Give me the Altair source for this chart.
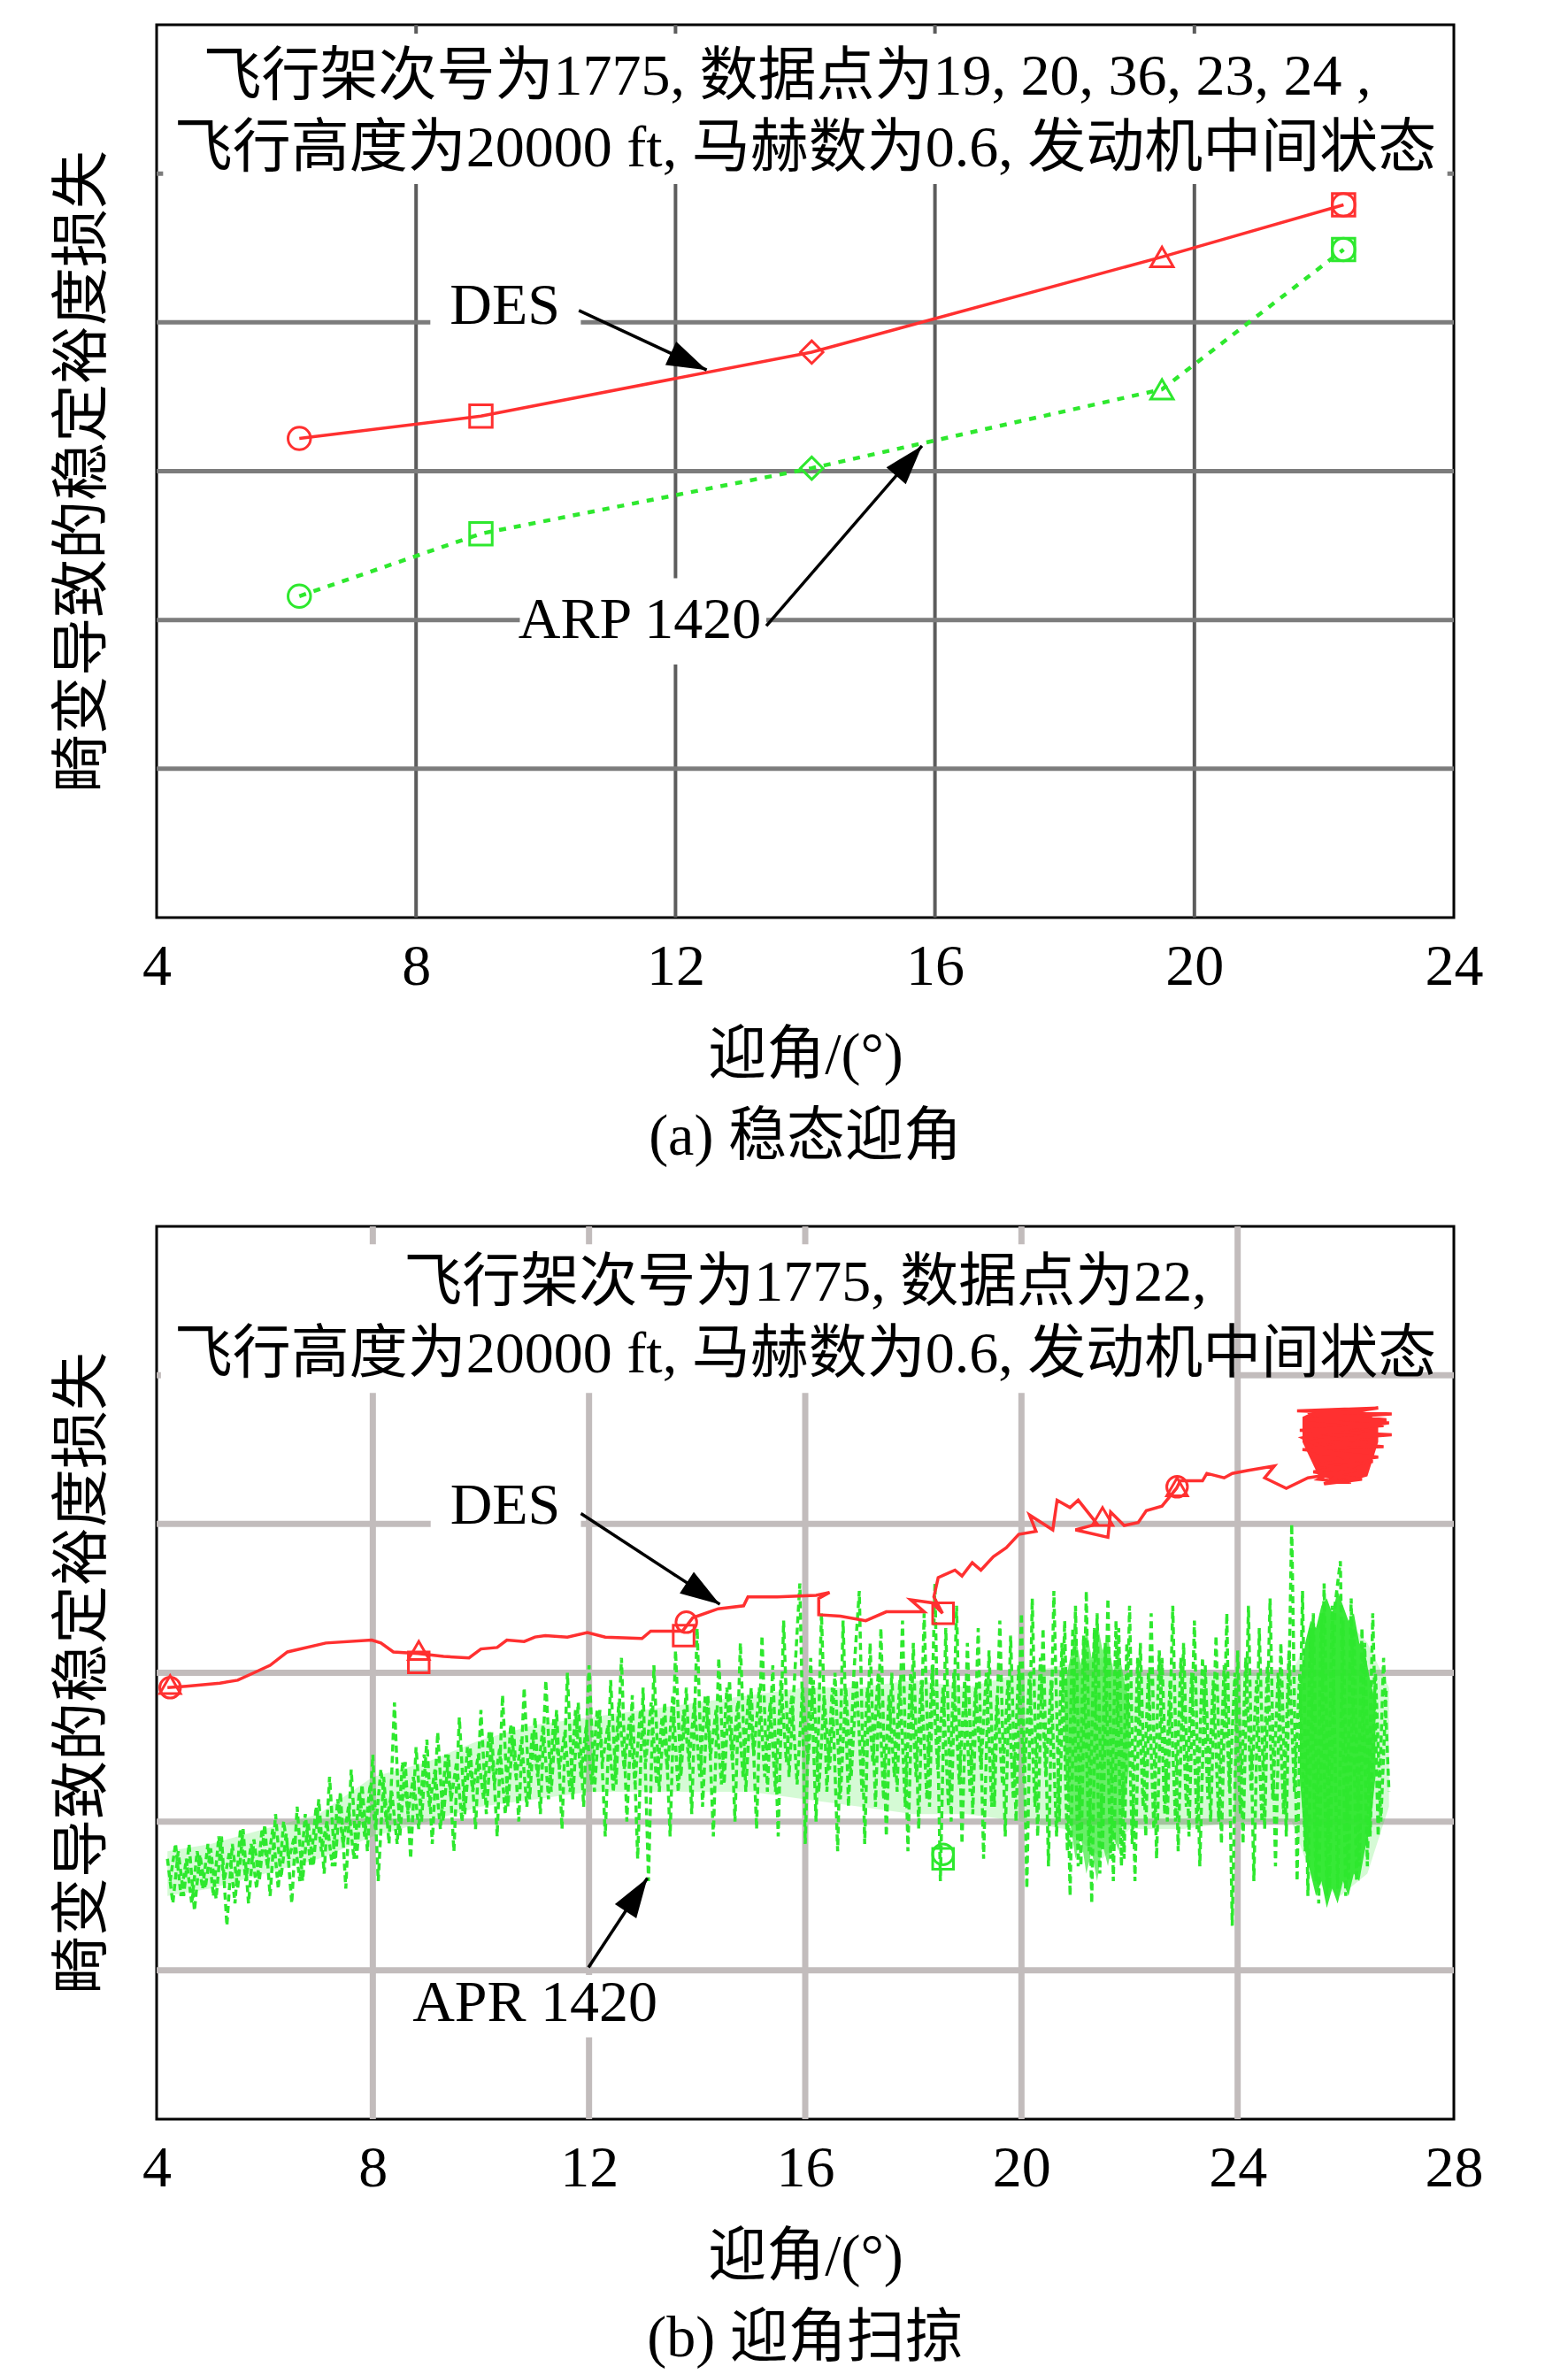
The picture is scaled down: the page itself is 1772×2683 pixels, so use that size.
import altair as alt
import pandas as pd

FONT = "Liberation Serif, Noto Sans CJK SC"
FS = 66
RED = "#ff3030"
GREEN = "#2ee82e"
ARROW = "M0,0L-0.65,2L0.65,2Z"
PW = 1466
PH = 1009

YTITLE = "畸变导致的稳定裕度损失"
XTITLE = "迎角/(°)"
HGRID = [1, 2, 3, 4, 5]

# ---------------- panel (a) data ----------------
a_xticks = [4, 8, 12, 16, 20, 24]
a_vgrid = [8, 12, 16, 20]
a_x = [6.2, 9.0, 14.1, 19.5, 22.3]
a_des = [3.22, 3.37, 3.80, 4.44, 4.79]
a_arp = [2.16, 2.58, 3.02, 3.55, 4.49]
a_shapes = ["circle", "square", "diamond", "triangle-up", "square"]
a_title = ["飞行架次号为1775, 数据点为19, 20, 36, 23, 24 ,",
           "飞行高度为20000 ft, 马赫数为0.6, 发动机中间状态"]
a_title_x = [13.72, 14.0]
a_title_y = [5.65, 5.17]
a_labels = [("DES", 9.37, 4.11), ("ARP 1420", 11.45, 2.0)]
a_boxes = [(4.1, 23.9, 4.93, 5.94), (8.22, 10.54, 3.9, 4.32), (9.6, 13.4, 1.7, 2.28)]
a_arrows = [(10.51, 4.08, 12.48, 3.68, 115.0), (13.40, 1.96, 15.80, 3.17, 40.9)]
a_caption = "(a) 稳态迎角"

# ---------------- panel (b) data ----------------
b_xticks = [4, 8, 12, 16, 20, 24, 28]
b_vgrid = [8, 12, 16, 20, 24]
b_title = ["飞行架次号为1775, 数据点为22,",
           "飞行高度为20000 ft, 马赫数为0.6, 发动机中间状态"]
b_title_x = [16.0, 16.0]
b_title_y = [5.62, 5.14]
b_labels = [("DES", 10.45, 4.12), ("APR 1420", 11.0, 0.78)]
b_boxes = [(4.08, 23.92, 4.88, 5.88), (9.07, 11.85, 3.9, 4.33), (8.6, 13.3, 0.55, 0.97)]
b_arrows = [(11.85, 4.07, 14.42, 3.46, 123.2), (11.99, 1.02, 13.08, 1.62, 33.4)]
b_caption = "(b) 迎角扫掠"

b_des_path = [
    (4.2, 2.90), (4.55, 2.91), (5.17, 2.93), (5.5, 2.95), (5.8, 3.00), (6.1, 3.05),
    (6.42, 3.14), (7.13, 3.20), (7.98, 3.22), (8.15, 3.20), (8.38, 3.14), (8.84, 3.13),
    (9.31, 3.11), (9.78, 3.10), (10.0, 3.16), (10.3, 3.17), (10.48, 3.22), (10.8, 3.21),
    (11.0, 3.24), (11.19, 3.25), (11.6, 3.24), (11.97, 3.27), (12.3, 3.24), (12.98, 3.23),
    (13.14, 3.28), (13.73, 3.28), (13.92, 3.37), (14.39, 3.43), (14.86, 3.45), (14.94, 3.51),
    (15.48, 3.51), (16.2, 3.52), (16.45, 3.54), (16.25, 3.50), (16.25, 3.39), (16.65, 3.38),
    (17.12, 3.35), (17.5, 3.41), (18.2, 3.41), (17.95, 3.49), (18.35, 3.47), (18.54, 3.40),
    (18.38, 3.51), (18.46, 3.64), (18.77, 3.69), (18.9, 3.65), (19.09, 3.74), (19.25, 3.69),
    (19.48, 3.78), (19.72, 3.84), (19.95, 3.93), (20.27, 3.95), (20.15, 4.06), (20.58, 3.96),
    (20.66, 4.16), (20.9, 4.11), (21.05, 4.16), (21.4, 4.00), (21.0, 3.96), (21.6, 3.91),
    (21.65, 4.08), (21.9, 3.99), (22.16, 4.01), (22.31, 4.09), (22.6, 4.12), (22.87, 4.24),
    (22.94, 4.29), (23.35, 4.29), (23.43, 4.34), (23.75, 4.31), (23.9, 4.34), (24.2, 4.36),
    (24.68, 4.39), (24.5, 4.31), (24.9, 4.24), (25.3, 4.31),
    (26.2, 4.36), (25.5, 4.40), (26.6, 4.45), (25.2, 4.50), (26.7, 4.52), (25.4, 4.56),
    (26.85, 4.60), (25.15, 4.63), (26.7, 4.66), (25.3, 4.70), (26.85, 4.74), (25.1, 4.76),
    (26.6, 4.78), (25.5, 4.72), (26.8, 4.68), (25.25, 4.60), (26.4, 4.55), (25.35, 4.50),
    (26.5, 4.42), (25.4, 4.35), (26.3, 4.30), (25.6, 4.27), (26.2, 4.40), (25.2, 4.58),
    (26.75, 4.70), (25.3, 4.75), (26.5, 4.62), (25.45, 4.48), (26.3, 4.45), (25.5, 4.30),
    (26.1, 4.28),
]
b_des_core_x = [25.2, 25.5, 26.0, 26.4, 26.6]
b_des_core_lo = [4.55, 4.32, 4.28, 4.32, 4.55]
b_des_core_hi = [4.72, 4.77, 4.78, 4.75, 4.68]

b_apr_x = [
    4.2, 4.3, 4.4, 4.5, 4.6, 4.7, 4.8, 4.9,
    5.0, 5.1, 5.2, 5.3, 5.4, 5.5, 5.6, 5.7, 5.8, 5.9,
    6.0, 6.1, 6.2, 6.3, 6.4, 6.5, 6.6, 6.7, 6.8, 6.9,
    7.0, 7.1, 7.2, 7.3, 7.4, 7.5, 7.6, 7.7, 7.8, 7.9,
    8.0, 8.1, 8.2, 8.3, 8.4, 8.5, 8.6, 8.7, 8.8, 8.9,
    9.0, 9.1, 9.2, 9.3, 9.4, 9.5, 9.6, 9.7, 9.8, 9.9,
    10.0, 10.1, 10.2, 10.3, 10.4, 10.5, 10.6, 10.7, 10.8, 10.9,
    11.0, 11.1, 11.2, 11.3, 11.4, 11.5, 11.6, 11.7, 11.8, 11.9,
    12.0, 12.1, 12.2, 12.3, 12.4, 12.5, 12.6, 12.7, 12.8, 12.9,
    13.0, 13.1, 13.2, 13.3, 13.4, 13.5, 13.6, 13.7, 13.8, 13.9,
    14.0, 14.1, 14.2, 14.3, 14.4, 14.5, 14.6, 14.7, 14.8, 14.9,
    15.0, 15.1, 15.2, 15.3, 15.4, 15.5, 15.6, 15.7, 15.8, 15.9,
    16.0, 16.1, 16.2, 16.3, 16.4, 16.5, 16.6, 16.7, 16.8, 16.9,
    17.0, 17.1, 17.2, 17.3, 17.4, 17.5, 17.6, 17.7, 17.8, 17.9,
    18.0, 18.1, 18.2, 18.3, 18.4, 18.5, 18.6, 18.7, 18.8, 18.9,
    19.0, 19.1, 19.2, 19.3, 19.4, 19.5, 19.6, 19.7, 19.8, 19.9,
    20.0, 20.1, 20.2, 20.3, 20.4, 20.5, 20.6, 20.7, 20.8, 20.9,
    21.0, 21.1, 21.2, 21.3, 21.4, 21.5, 21.6, 21.7, 21.8, 21.9,
    22.0, 22.1, 22.2, 22.3, 22.4, 22.5, 22.6, 22.7, 22.8, 22.9,
    23.0, 23.1, 23.2, 23.3, 23.4, 23.5, 23.6, 23.7, 23.8, 23.9,
    24.0, 24.1, 24.2, 24.3, 24.4, 24.5, 24.6, 24.7, 24.8, 24.9,
    25.0, 25.1, 25.2, 25.3, 25.4, 25.5, 25.6, 25.7, 25.8, 25.9,
    26.0, 26.1, 26.2, 26.3, 26.4, 26.5, 26.6, 26.7, 26.8,
]
b_apr_y = [
    1.75, 1.45, 1.80, 1.50, 1.85, 1.40, 1.78, 1.55,
    1.82, 1.48, 1.90, 1.30, 1.85, 1.55, 1.95, 1.45, 1.88, 1.60,
    1.98, 1.50, 2.05, 1.62, 1.92, 1.45, 2.10, 1.60, 2.00, 1.70,
    2.15, 1.65, 2.30, 1.70, 2.20, 1.55, 2.35, 1.75, 2.25, 1.80,
    2.45, 1.60, 2.30, 1.85, 2.80, 1.90, 2.40, 1.75, 2.50, 2.00,
    2.55, 1.85, 2.60, 2.00, 2.45, 1.80, 2.70, 2.05, 2.50, 1.95,
    2.75, 2.05, 2.60, 1.90, 2.85, 2.10, 2.65, 2.00, 2.90, 2.15,
    2.70, 2.05, 2.95, 2.20, 2.75, 1.95, 3.00, 2.15, 2.80, 2.10,
    3.05, 2.20, 2.75, 1.90, 2.95, 2.25, 3.10, 2.00, 2.85, 1.75,
    2.90, 1.60, 3.05, 2.20, 2.80, 1.90, 3.15, 2.30, 2.90, 2.05,
    3.30, 2.10, 2.85, 1.90, 3.10, 2.25, 2.95, 2.00, 3.20, 2.20,
    2.90, 1.95, 3.25, 2.20, 3.05, 1.90, 3.35, 2.30, 2.95, 3.60,
    1.85, 3.10, 2.00, 3.40, 2.20, 2.90, 1.80, 3.35, 2.10, 3.00,
    3.55, 1.85, 3.20, 2.10, 3.30, 1.90, 3.00, 2.20, 3.35, 1.80,
    3.20, 1.95, 3.40, 2.10, 3.60, 1.60, 3.30, 2.00, 3.45, 1.85,
    3.20, 2.05, 3.30, 1.75, 3.15, 2.10, 3.35, 1.90, 3.25, 2.00,
    3.40, 1.55, 3.50, 1.90, 3.30, 1.70, 3.55, 2.00, 3.35, 1.50,
    3.45, 1.70, 3.55, 1.45, 3.40, 1.80, 3.50, 1.60, 3.30, 1.75,
    3.45, 1.60, 3.20, 1.90, 3.40, 1.75, 3.10, 2.00, 3.45, 1.80,
    3.20, 1.90, 3.35, 1.70, 3.05, 2.00, 3.25, 1.85, 3.40, 1.30,
    3.15, 1.85, 3.45, 1.60, 3.30, 1.95, 3.50, 1.70, 3.20, 1.90,
    4.00, 1.60, 3.55, 1.50, 3.40, 1.45, 3.60, 1.55, 3.45, 3.75,
    1.50, 3.50, 1.60, 3.30, 1.70, 3.40, 1.90, 3.10, 2.20,
]
b_apr2_x = [
    4.25, 4.35, 4.45, 4.55, 4.65, 4.75, 4.85, 4.95,
    5.05, 5.15, 5.25, 5.35, 5.45, 5.55, 5.65, 5.75, 5.85, 5.95,
    6.05, 6.15, 6.25, 6.35, 6.45, 6.55, 6.65, 6.75, 6.85, 6.95,
    7.05, 7.15, 7.25, 7.35, 7.45, 7.55, 7.65, 7.75, 7.85, 7.95,
    8.05, 8.15, 8.25, 8.35, 8.45, 8.55, 8.65, 8.75, 8.85, 8.95,
    9.05, 9.15, 9.25, 9.35, 9.45, 9.55, 9.65, 9.75, 9.85, 9.95,
    10.05, 10.15, 10.25, 10.35, 10.45, 10.55, 10.65, 10.75, 10.85, 10.95,
    11.05, 11.15, 11.25, 11.35, 11.45, 11.55, 11.65, 11.75, 11.85, 11.95,
    12.05, 12.15, 12.25, 12.35, 12.45, 12.55, 12.65, 12.75, 12.85, 12.95,
    13.05, 13.15, 13.25, 13.35, 13.45, 13.55, 13.65, 13.75, 13.85, 13.95,
    14.05, 14.15, 14.25, 14.35, 14.45, 14.55, 14.65, 14.75, 14.85, 14.95,
    15.05, 15.15, 15.25, 15.35, 15.45, 15.55, 15.65, 15.75, 15.85, 15.95,
    16.05, 16.15, 16.25, 16.35, 16.45, 16.55, 16.65, 16.75, 16.85, 16.95,
    17.05, 17.15, 17.25, 17.35, 17.45, 17.55, 17.65, 17.75, 17.85, 17.95,
    18.05, 18.15, 18.25, 18.35, 18.45, 18.55, 18.65, 18.75, 18.85, 18.95,
    19.05, 19.15, 19.25, 19.35, 19.45, 19.55, 19.65, 19.75, 19.85, 19.95,
    20.05, 20.15, 20.25, 20.35, 20.45, 20.55, 20.65, 20.75, 20.85, 20.95,
    21.05, 21.15, 21.25, 21.35, 21.45, 21.55, 21.65, 21.75, 21.85, 21.95,
    22.05, 22.15, 22.25, 22.35, 22.45, 22.55, 22.65, 22.75, 22.85, 22.95,
    23.05, 23.15, 23.25, 23.35, 23.45, 23.55, 23.65, 23.75, 23.85, 23.95,
    24.05, 24.15, 24.25, 24.35, 24.45, 24.55, 24.65, 24.75, 24.85, 24.95,
    25.05, 25.15, 25.25, 25.35, 25.45, 25.55, 25.65, 25.75, 25.85, 25.95,
    26.05, 26.15, 26.25, 26.35, 26.45, 26.55, 26.65, 26.75,
]
b_apr2_y = [
    1.60, 1.85, 1.50, 1.75, 1.45, 1.80, 1.55, 1.85,
    1.50, 1.90, 1.60, 1.80, 1.45, 1.95, 1.60, 1.85, 1.55, 1.95,
    1.70, 1.95, 1.55, 2.00, 1.75, 1.90, 1.60, 2.05, 1.70, 2.10,
    1.80, 2.00, 1.70, 2.15, 1.85, 2.10, 1.75, 2.20, 1.90, 2.25,
    1.95, 2.35, 2.00, 2.20, 1.85, 2.40, 2.05, 2.30, 1.95, 2.45,
    2.10, 2.35, 1.95, 2.45, 2.15, 2.40, 2.00, 2.50, 2.20, 2.45,
    2.15, 2.60, 2.25, 2.50, 2.05, 2.65, 2.30, 2.55, 2.10, 2.60,
    2.30, 2.65, 2.15, 2.70, 2.35, 2.60, 2.20, 2.75, 2.30, 2.65,
    2.25, 2.75, 2.40, 2.65, 2.20, 2.80, 2.35, 2.70, 2.25, 2.75,
    2.40, 2.80, 2.25, 2.70, 2.35, 2.85, 2.20, 2.75, 2.40, 2.80,
    2.30, 2.85, 2.45, 2.75, 2.25, 2.90, 2.40, 2.80, 2.30, 2.85,
    2.45, 2.90, 2.30, 2.80, 2.20, 2.95, 2.40, 2.85, 2.25, 2.90,
    2.40, 2.95, 2.20, 2.85, 2.35, 3.00, 2.15, 2.90, 2.30, 2.95,
    2.20, 2.90, 2.40, 3.00, 2.15, 2.85, 2.30, 2.95, 2.10, 3.00,
    2.30, 2.95, 2.15, 3.05, 2.35, 2.90, 2.10, 3.00, 2.25, 2.95,
    2.20, 2.90, 2.35, 3.00, 2.10, 2.85, 2.25, 2.95, 2.15, 3.05,
    2.25, 3.00, 2.10, 3.10, 2.30, 2.95, 1.90, 3.20, 1.80, 3.30,
    1.70, 3.25, 1.80, 3.30, 1.65, 3.20, 1.75, 3.35, 1.70, 3.20,
    1.85, 3.10, 2.10, 3.00, 1.95, 3.15, 2.05, 2.95, 2.00, 3.10,
    2.10, 3.00, 1.95, 3.10, 2.15, 2.95, 2.00, 3.05, 2.20, 3.00,
    2.05, 3.10, 2.20, 2.95, 2.00, 3.05, 2.15, 3.00, 2.05, 3.15,
    2.20, 3.00, 1.80, 3.30, 1.60, 3.40, 1.50, 3.45, 1.55, 3.35,
    1.60, 3.30, 1.70, 3.20, 1.90, 3.00, 2.00, 2.90,
]
b_band_x = [4.2, 5, 6, 7, 8, 9, 10, 11, 12, 13, 14, 15, 16, 17, 18, 19, 20, 20.8,
            21.5, 22, 23, 24, 25, 25.4, 25.9, 26.4, 26.8]
b_band_lo = [1.5, 1.55, 1.65, 1.75, 1.9, 2.0, 2.1, 2.15, 2.2, 2.2, 2.2, 2.2, 2.15, 2.1,
             2.05, 2.05, 2.0, 1.95, 1.75, 1.95, 1.95, 2.0, 2.0, 1.6, 1.5, 1.65, 2.1]
b_band_hi = [1.8, 1.85, 1.95, 2.05, 2.3, 2.4, 2.55, 2.65, 2.7, 2.75, 2.8, 2.85, 2.9, 2.9,
             2.95, 2.9, 3.0, 3.05, 3.1, 3.0, 3.0, 3.0, 3.0, 3.3, 3.4, 3.2, 2.9]
b_blob1_x = [20.8, 20.9, 21.0, 21.1, 21.2, 21.3, 21.4, 21.5, 21.6, 21.7, 21.8, 21.9, 22.0]
b_blob1_lo = [2.4, 2.0, 1.75, 1.9, 1.65, 1.8, 1.6, 1.85, 1.7, 1.9, 1.8, 2.1, 2.4]
b_blob1_hi = [2.9, 3.1, 3.25, 3.05, 3.3, 3.1, 3.35, 3.15, 3.25, 3.0, 3.15, 2.95, 2.8]
b_blob2_x = [25.15, 25.25, 25.35, 25.45, 25.55, 25.65, 25.75, 25.85, 25.95, 26.05, 26.15,
             26.25, 26.35, 26.45, 26.55]
b_blob2_lo = [2.3, 1.8, 1.65, 1.5, 1.6, 1.42, 1.55, 1.45, 1.6, 1.5, 1.65, 1.6, 1.8, 1.95, 2.3]
b_blob2_hi = [2.9, 3.2, 3.35, 3.3, 3.45, 3.5, 3.4, 3.55, 3.45, 3.35, 3.4, 3.2, 3.15, 2.95, 2.8]

b_markers = [
    (4.25, 2.92, "triangle-up", RED), (4.25, 2.90, "circle", RED),
    (8.85, 3.15, "triangle-up", RED), (8.85, 3.07, "square", RED),
    (13.75, 3.25, "square", RED), (13.8, 3.34, "circle", RED),
    (18.55, 3.40, "square", RED), (21.5, 4.05, "triangle-up", RED),
    (22.88, 4.25, "circle", RED), (22.88, 4.25, "triangle-up", RED),
    (18.55, 1.75, "square", GREEN), (18.55, 1.78, "circle", GREEN),
]


def make_panel(xdom, xticks, vgrid, vcol, hcol, vw, hw, boxes, titles, title_x, title_y,
               labels, arrows, data_layers, caption):
    xs = alt.Scale(domain=xdom, nice=False, zero=False)
    ys = alt.Scale(domain=[0, 6], nice=False, zero=False)
    xaxis = alt.Axis(values=xticks, title=XTITLE, grid=False, ticks=False, tickSize=0,
                     domain=False, labelFontSize=FS, labelFont=FONT, labelPadding=23,
                     labelColor="black", labelFlush=False, labelOverlap=False,
                     titleFontSize=FS, titleFont=FONT, titleFontWeight="normal",
                     titlePadding=35, titleColor="black")
    yaxis = alt.Axis(title=YTITLE, labels=False, ticks=False, domain=False, grid=False,
                     titleFontSize=FS, titleFont=FONT, titleFontWeight="normal",
                     titlePadding=50, titleColor="black")

    def X(f):
        return alt.X(f, type="quantitative", scale=xs, axis=xaxis)

    def Y(f):
        return alt.Y(f, type="quantitative", scale=ys, axis=yaxis)

    layers = []
    layers.append(alt.Chart(pd.DataFrame({"g": vgrid})).mark_rule(
        color=vcol, strokeWidth=vw).encode(x=X("g")))
    layers.append(alt.Chart(pd.DataFrame({"g": HGRID})).mark_rule(
        color=hcol, strokeWidth=hw).encode(y=Y("g")))
    bdf = pd.DataFrame(boxes, columns=["x0", "x1", "y0", "y1"])
    layers.append(alt.Chart(bdf).mark_rect(color="white").encode(
        x=X("x0"), x2="x1", y=Y("y0"), y2="y1"))
    layers.extend([l(X, Y) for l in data_layers])
    tdf = pd.DataFrame({"t": titles, "y": title_y, "x": title_x})
    layers.append(alt.Chart(tdf).mark_text(font=FONT, fontSize=FS, color="black",
                                           align="center", baseline="middle").encode(
        x=X("x"), y=Y("y"), text="t:N"))
    ldf = pd.DataFrame(labels, columns=["t", "x", "y"])
    layers.append(alt.Chart(ldf).mark_text(font=FONT, fontSize=FS, color="black",
                                           align="center", baseline="middle").encode(
        x=X("x"), y=Y("y"), text="t:N"))
    adf = pd.DataFrame(arrows, columns=["x0", "y0", "x1", "y1", "ang"])
    layers.append(alt.Chart(adf).mark_rule(color="black", strokeWidth=3.5).encode(
        x=X("x0"), y=Y("y0"), x2="x1", y2="y1"))
    layers.append(alt.Chart(adf).mark_point(shape=ARROW, filled=True, color="black",
                                            size=2000, opacity=1).encode(
        x=X("x1"), y=Y("y1"), angle=alt.Angle("ang:Q", scale=None)))
    return alt.layer(*layers).properties(
        width=PW, height=PH,
        title=alt.TitleParams(caption, orient="bottom", offset=28, fontSize=FS, font=FONT,
                              fontWeight="normal", frame="group", anchor="middle",
                              color="black"))


# ---- panel (a) data layers ----
a_df = pd.DataFrame({"x": a_x, "des": a_des, "arp": a_arp, "shape": a_shapes})
a_mk = pd.DataFrame(
    [(x, y, s, RED) for x, y, s in zip(a_x, a_des, a_shapes)]
    + [(x, y, s, GREEN) for x, y, s in zip(a_x, a_arp, a_shapes)]
    + [(a_x[-1], a_des[-1], "circle", RED), (a_x[-1], a_arp[-1], "circle", GREEN)],
    columns=["x", "y", "shape", "c"])

a_layers = [
    lambda X, Y: alt.Chart(a_df).mark_line(color=RED, strokeWidth=3.5).encode(
        x=X("x"), y=Y("des")),
    lambda X, Y: alt.Chart(a_df).mark_line(color=GREEN, strokeWidth=4.5,
                                           strokeDash=[8, 9]).encode(x=X("x"), y=Y("arp")),
    lambda X, Y: alt.Chart(a_mk).mark_point(filled=False, strokeWidth=3, size=650,
                                            opacity=1).encode(
        x=X("x"), y=Y("y"), shape=alt.Shape("shape:N", scale=None),
        color=alt.Color("c:N", scale=None)),
]

# ---- panel (b) data layers ----
band_df = pd.DataFrame({"x": b_band_x, "lo": b_band_lo, "hi": b_band_hi})
blob1_df = pd.DataFrame({"x": b_blob1_x, "lo": b_blob1_lo, "hi": b_blob1_hi})
blob2_df = pd.DataFrame({"x": b_blob2_x, "lo": b_blob2_lo, "hi": b_blob2_hi})
apr_df = pd.DataFrame({"x": b_apr_x, "y": b_apr_y, "i": list(range(len(b_apr_x)))})
apr2_df = pd.DataFrame({"x": b_apr2_x, "y": b_apr2_y, "i": list(range(len(b_apr2_x)))})
des_df = pd.DataFrame(b_des_path, columns=["x", "y"])
des_df["i"] = list(range(len(des_df)))
dcore_df = pd.DataFrame({"x": b_des_core_x, "lo": b_des_core_lo, "hi": b_des_core_hi})
b_mk = pd.DataFrame(b_markers, columns=["x", "y", "shape", "c"])

b_layers = [
    lambda X, Y: alt.Chart(band_df).mark_area(color=GREEN, opacity=0.2).encode(
        x=X("x"), y=Y("lo"), y2="hi"),
    lambda X, Y: alt.Chart(blob1_df).mark_area(color=GREEN, opacity=0.65).encode(
        x=X("x"), y=Y("lo"), y2="hi"),
    lambda X, Y: alt.Chart(blob2_df).mark_area(color=GREEN, opacity=0.95).encode(
        x=X("x"), y=Y("lo"), y2="hi"),
    lambda X, Y: alt.Chart(apr2_df).mark_line(color=GREEN, strokeWidth=3.5,
                                              strokeDash=[7, 4]).encode(
        x=X("x"), y=Y("y"), order="i:Q"),
    lambda X, Y: alt.Chart(apr_df).mark_line(color=GREEN, strokeWidth=3.5,
                                             strokeDash=[8, 5]).encode(
        x=X("x"), y=Y("y"), order="i:Q"),
    lambda X, Y: alt.Chart(dcore_df).mark_area(color=RED, opacity=1).encode(
        x=X("x"), y=Y("lo"), y2="hi"),
    lambda X, Y: alt.Chart(des_df).mark_line(color=RED, strokeWidth=3.5).encode(
        x=X("x"), y=Y("y"), order="i:Q"),
    lambda X, Y: alt.Chart(b_mk).mark_point(filled=False, strokeWidth=3, size=550,
                                            opacity=1).encode(
        x=X("x"), y=Y("y"), shape=alt.Shape("shape:N", scale=None),
        color=alt.Color("c:N", scale=None)),
]

top = make_panel([4, 24], a_xticks, a_vgrid, "#5c5c5c", "#7c7c7c", 4, 5, a_boxes,
                 a_title, a_title_x, a_title_y, a_labels, a_arrows, a_layers, a_caption)
bottom = make_panel([4, 28], b_xticks, b_vgrid, "#c2bcbc", "#c2bcbc", 7, 7, b_boxes,
                    b_title, b_title_x, b_title_y, b_labels, b_arrows, b_layers, b_caption)

chart = alt.vconcat(top, bottom, spacing=61).properties(
    padding={"left": 50, "top": 16, "right": 10, "bottom": 5},
    background="white",
).configure_view(stroke="black", strokeWidth=3)

chart.save("out.html", embed_options={"renderer": "svg", "actions": False})
